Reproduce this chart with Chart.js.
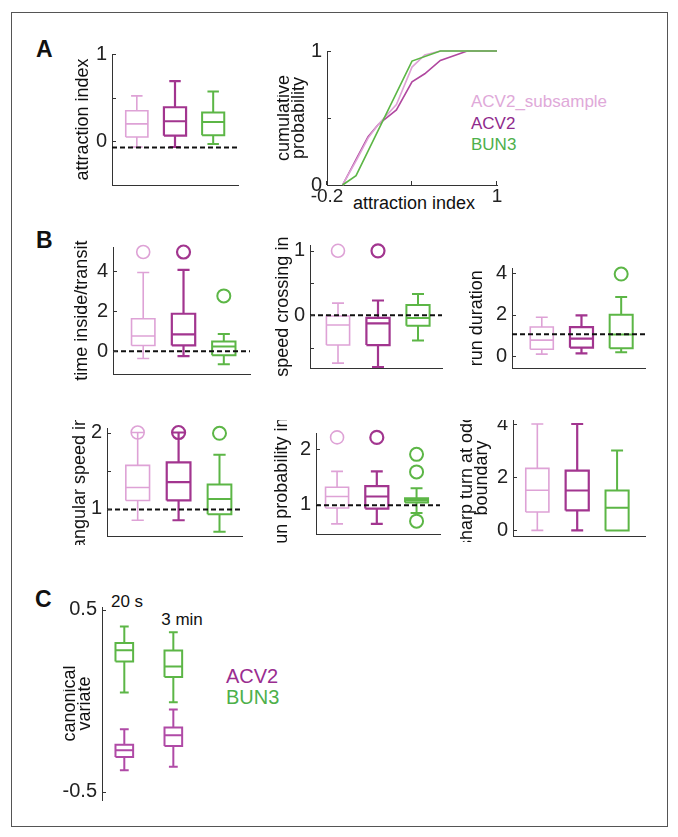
<!DOCTYPE html>
<html>
<head>
<meta charset="utf-8">
<script src="https://cdn.jsdelivr.net/npm/chart.js@4.4.0/dist/chart.umd.min.js"></script>
<style>
  body { margin: 0; background: #fff; width: 678px; height: 837px; position: relative; overflow: hidden;
         font-family: "Liberation Sans", Arial, Helvetica, sans-serif; }
  #frame { position: absolute; left: 11px; top: 12px; width: 655px; height: 813px; border: 1px solid #555; }
  .t { position: absolute; white-space: nowrap; line-height: 1; transform: translate(0, -50%); }
  .c { transform: translate(-50%, -50%); }
  .lbl { font-weight: bold; font-size: 23px; color: #111; }
</style>
</head>
<body>
<div id="frame"></div>

<div class="t lbl" style="left:36px;top:49px">A</div>
<div class="t lbl" style="left:36px;top:240px">B</div>
<div class="t lbl" style="left:35px;top:599px">C</div>

<div class="t" style="left:471px;top:101px;font-size:17px;color:#e0a9d9">ACV2_subsample</div>
<div class="t" style="left:471px;top:123px;font-size:17px;color:#8f2a8c">ACV2</div>
<div class="t" style="left:471px;top:144px;font-size:17px;color:#4db04a">BUN3</div>
<div class="t c" style="left:414px;top:203px;font-size:18px;color:#111">attraction index</div>

<div class="t c" style="left:127px;top:601px;font-size:17px;color:#111">20 s</div>
<div class="t c" style="left:182px;top:619px;font-size:17px;color:#111">3 min</div>
<div class="t" style="left:226px;top:676px;font-size:20px;color:#9a2d90">ACV2</div>
<div class="t" style="left:226px;top:697px;font-size:20px;color:#4db04a">BUN3</div>

<script>
var FONT = '"Liberation Sans", Arial, Helvetica, sans-serif';

// groups: ACV2_subsample, ACV2, BUN3
var groupColors = ['#dea2d6', '#a2358f', '#5cb646'];
var groupWidths = [1.6, 2.2, 2];

// box summaries per group: [low whisker, q1, median, q3, high whisker]
var attractionBox = [[-0.065, 0.05, 0.2, 0.35, 0.52], [-0.065, 0.065, 0.23, 0.39, 0.69], [-0.03, 0.07, 0.22, 0.33, 0.57]];

// cumulative distributions of the attraction index
var cdfSubX = [-0.09, 0.01, 0.09, 0.16, 0.29, 0.40, 0.49, 0.60, 1.0];
var cdfSubY = [0, 0.19, 0.35, 0.45, 0.60, 0.88, 0.97, 1, 1];
var cdfAcvX = [-0.09, 0.01, 0.09, 0.16, 0.29, 0.40, 0.49, 0.60, 0.79, 1.0];
var cdfAcvY = [0, 0.20, 0.36, 0.45, 0.56, 0.77, 0.83, 0.93, 1, 1];
var cdfBunX = [-0.09, 0.005, 0.40, 0.60, 1.0];
var cdfBunY = [0, 0.07, 0.925, 1, 1];

var timeInsideBox = [[-0.36, 0.29, 0.76, 1.62, 3.93], [-0.24, 0.29, 0.84, 1.87, 4.06], [-0.65, -0.2, 0.24, 0.49, 0.86]];
var timeInsideOut = [[4.95], [4.95], [2.76]];
var speedCrossBox = [[-0.74, -0.46, -0.15, -0.01, 0.19], [-0.8, -0.46, -0.125, -0.04, 0.23], [-0.39, -0.16, -0.04, 0.16, 0.33]];
var speedCrossOut = [[1], [1], []];
var runDurBox = [[0.11, 0.34, 0.78, 1.41, 1.88], [0.15, 0.42, 0.85, 1.4, 1.97], [0.2, 0.39, 1.05, 2.0, 2.85]];
var runDurOut = [[], [], [3.95]];
var angSpeedBox = [[0.85, 1.11, 1.28, 1.57, 2.0], [0.85, 1.11, 1.35, 1.61, 2.0], [0.7, 0.93, 1.13, 1.32, 1.71]];
var angSpeedOut = [[2.0], [2.0], [1.99]];
var runProbBox = [[0.64, 0.93, 1.14, 1.31, 1.6], [0.64, 0.92, 1.14, 1.33, 1.6], [0.84, 1.03, 1.07, 1.11, 1.29]];
var runProbOut = [[2.22], [2.22], [1.91, 1.59, 0.69]];
var sharpTurnBox = [[0, 0.69, 1.51, 2.33, 4.0], [0, 0.75, 1.5, 2.25, 4.0], [0, 0, 0.85, 1.5, 3.0]];
var sharpTurnOut = [[], [], []];

// panel C: times 20 s and 3 min, groups ACV2 and BUN3
var canonTimes = ['20 s', '3 min'];
var canonAcv2 = [[-0.382, -0.309, -0.272, -0.241, -0.157], [-0.363, -0.248, -0.19, -0.147, -0.048]];
var canonBun3 = [[0.045, 0.216, 0.277, 0.317, 0.408], [-0.008, 0.130, 0.188, 0.276, 0.377]];

// inward tick marks, matlab style
var inTicks = {
  id: 'inTicks',
  afterDraw: function(chart) {
    var ctx = chart.ctx, a = chart.chartArea;
    var ys = chart.scales.y, xs = chart.scales.x;
    ctx.save();
    ctx.strokeStyle = '#333';
    ctx.lineWidth = 1;
    ys.ticks.forEach(function(t) {
      var p = Math.round(ys.getPixelForValue(t.value)) + 0.5;
      ctx.beginPath(); ctx.moveTo(a.left, p); ctx.lineTo(a.left + 4, p); ctx.stroke();
    });
    if (chart.options.plugins.inTicks.x) {
      xs.ticks.forEach(function(t) {
        var p = Math.round(xs.getPixelForValue(t.value)) - 0.5;
        ctx.beginPath(); ctx.moveTo(p, a.bottom); ctx.lineTo(p, a.bottom - 4); ctx.stroke();
      });
    }
    ctx.restore();
  }
};

function boxLine(x, s, hw, cw) {
  var gap = {x: x, y: null};
  return [
    {x: x - hw, y: s[1]}, {x: x + hw, y: s[1]}, {x: x + hw, y: s[3]}, {x: x - hw, y: s[3]}, {x: x - hw, y: s[1]}, gap,
    {x: x - hw, y: s[2]}, {x: x + hw, y: s[2]}, gap,
    {x: x, y: s[3]}, {x: x, y: s[4]}, gap,
    {x: x - cw, y: s[4]}, {x: x + cw, y: s[4]}, gap,
    {x: x, y: s[1]}, {x: x, y: s[0]}, gap,
    {x: x - cw, y: s[0]}, {x: x + cw, y: s[0]}
  ];
}

function lineSet(data, color, width) {
  return { data: data, showLine: true, borderColor: color, borderWidth: width, pointRadius: 0,
           borderJoinStyle: 'miter', borderCapStyle: 'butt', tension: 0, spanGaps: false, clip: false };
}

function outlierSet(xpos, vals, color, width) {
  return { data: vals.map(function(v) { return {x: xpos, y: v}; }), showLine: false, pointRadius: 6.5,
           pointBackgroundColor: 'rgba(0,0,0,0)', pointBorderColor: color, pointBorderWidth: width, clip: false };
}

function boxDatasets(boxes, outs, xmin, xmax, dashed) {
  var sets = [];
  if (dashed !== null) {
    var d = lineSet([{x: xmin, y: dashed}, {x: xmax, y: dashed}], '#111', 2);
    d.borderDash = [5, 3];
    sets.push(d);
  }
  boxes.forEach(function(s, i) {
    sets.push(lineSet(boxLine(i + 1, s, 0.29, 0.15), groupColors[i], groupWidths[i]));
    if (outs) sets.push(outlierSet(i + 1, outs[i], groupColors[i], groupWidths[i]));
  });
  return sets;
}

function makePanel(p) {
  var padR = 14, padB = 6;
  var xH = p.xTicks ? 24 : 0;
  var w = p.plot[2] - p.left + padR;
  var h = p.plot[3] - p.top + padB + xH;
  var yW = p.plot[0] - p.left;
  var cv = document.createElement('canvas');
  cv.width = w; cv.height = h;
  cv.style.cssText = 'position:absolute;left:' + p.left + 'px;top:' + p.top + 'px;width:' + w + 'px;height:' + h + 'px';
  document.body.appendChild(cv);
  var multi = Array.isArray(p.title);
  new Chart(cv.getContext('2d'), {
    type: 'scatter',
    data: { datasets: p.datasets },
    options: {
      responsive: false,
      animation: false,
      events: [],
      layout: { padding: { left: 0, top: p.plot[1] - p.top, right: padR, bottom: padB } },
      plugins: { legend: { display: false }, tooltip: { enabled: false }, inTicks: { x: !!p.xTicks } },
      scales: {
        x: {
          type: 'linear', min: p.xmin, max: p.xmax,
          afterBuildTicks: function(s) { if (p.xTicks) s.ticks = p.xTicks.map(function(v) { return {value: v}; }); },
          afterFit: function(s) { s.height = xH; s.paddingLeft = 0; s.paddingRight = 0; },
          grid: { display: false, drawTicks: false },
          border: { display: p.xAxis !== false, color: '#333', width: 1 },
          ticks: {
            display: !!p.xTicks, padding: 0, color: '#222', font: { size: 19, family: FONT },
            callback: function(v) { return p.xLabels && p.xLabels.indexOf(v) >= 0 ? String(v) : ''; }
          }
        },
        y: {
          min: p.ymin, max: p.ymax,
          afterBuildTicks: function(s) { s.ticks = p.yTicks.map(function(v) { return {value: v}; }); },
          afterFit: function(s) { s.width = yW; s.paddingTop = 0; s.paddingBottom = 0; },
          grid: { display: false, drawTicks: false },
          border: { display: true, color: '#333', width: 1 },
          ticks: {
            padding: 5, color: '#222', font: { size: 20, family: FONT },
            callback: function(v) { return p.yLabels.indexOf(v) >= 0 ? String(v) : ''; }
          },
          title: {
            display: true, text: p.title, color: '#111', padding: 0,
            font: { size: 18, family: FONT, lineHeight: multi ? 0.833 : 1 }
          }
        }
      }
    },
    plugins: [inTicks]
  });
}

// A: attraction index boxes
makePanel({ left: 74, top: 30, plot: [112, 54, 238, 185], xmin: 0.35, xmax: 3.65, ymin: -0.5, ymax: 1,
  yTicks: [0, 0.5, 1], yLabels: [0, 1], title: 'attraction index',
  datasets: boxDatasets(attractionBox, null, 0.35, 3.65, -0.07) });

// A: cumulative probability
function cdfPoints(xs, ys) { return xs.map(function(x, i) { return {x: x, y: ys[i]}; }); }
makePanel({ left: 277, top: 30, plot: [327, 51, 497, 185], xmin: -0.2, xmax: 1, ymin: 0, ymax: 1,
  xTicks: [-0.2, 0.4, 1], xLabels: [-0.2, 1], yTicks: [0, 0.5, 1], yLabels: [0, 1],
  title: ['cumulative', 'probability'],
  datasets: [
    lineSet(cdfPoints(cdfBunX, cdfBunY), '#5cb646', 1.6),
    lineSet(cdfPoints(cdfSubX, cdfSubY), '#dea2d6', 1.6),
    lineSet(cdfPoints(cdfAcvX, cdfAcvY), '#b0479f', 1.6)
  ] });

// B, first row
makePanel({ left: 73, top: 225, plot: [113, 247, 250, 377], xmin: 0.25, xmax: 3.65, ymin: -1.15, ymax: 5.2,
  yTicks: [0, 2, 4], yLabels: [0, 2, 4], title: 'time inside/transit',
  datasets: boxDatasets(timeInsideBox, timeInsideOut, 0.25, 3.65, 0) });
makePanel({ left: 274, top: 225, plot: [310, 245, 442, 371], xmin: 0.3, xmax: 3.6, ymin: -0.82, ymax: 1.09,
  yTicks: [-0.5, 0, 0.5, 1], yLabels: [0, 1], title: 'speed crossing in',
  datasets: boxDatasets(speedCrossBox, speedCrossOut, 0.3, 3.6, 0) });
makePanel({ left: 468, top: 225, plot: [512, 268, 645, 371], xmin: 0.25, xmax: 3.6, ymin: -0.58, ymax: 4.24,
  yTicks: [0, 2, 4], yLabels: [0, 2, 4], title: 'run duration',
  datasets: boxDatasets(runDurBox, runDurOut, 0.25, 3.6, 1.06) });

// B, second row
makePanel({ left: 71, top: 420, plot: [107, 424, 242, 539], xmin: 0.25, xmax: 3.55, ymin: 0.64, ymax: 2.05,
  yTicks: [1, 1.5, 2], yLabels: [1, 2], title: 'angular speed in',
  datasets: boxDatasets(angSpeedBox, angSpeedOut, 0.25, 3.55, 0.99) });
makePanel({ left: 273, top: 420, plot: [316, 433, 440, 537], xmin: 0.47, xmax: 3.59, ymin: 0.45, ymax: 2.3,
  yTicks: [1, 2], yLabels: [1, 2], title: 'run probability in',
  datasets: boxDatasets(runProbBox, runProbOut, 0.47, 3.59, 0.98) });
makePanel({ left: 460, top: 420, plot: [513, 420, 645, 536], xmin: 0.39, xmax: 3.7, ymin: -0.21, ymax: 4.15,
  yTicks: [0, 2, 4], yLabels: [0, 2, 4], title: ['sharp turn at odor', 'boundary'],
  datasets: boxDatasets(sharpTurnBox, sharpTurnOut, 0.39, 3.7, null) });

// C: canonical variate
var cSets = [];
canonTimes.forEach(function(t, i) {
  cSets.push(lineSet(boxLine(i + 1, canonBun3[i], 0.18, 0.09), '#5cb646', 2));
  cSets.push(lineSet(boxLine(i + 1, canonAcv2[i], 0.18, 0.09), '#b04aa6', 2));
});
makePanel({ left: 63, top: 590, plot: [102, 607, 215, 800], xmin: 0.545, xmax: 2.85, ymin: -0.545, ymax: 0.515,
  yTicks: [-0.5, 0.5], yLabels: [-0.5, 0.5], title: ['canonical', 'variate'], xAxis: false,
  datasets: cSets });
</script>
</body>
</html>
